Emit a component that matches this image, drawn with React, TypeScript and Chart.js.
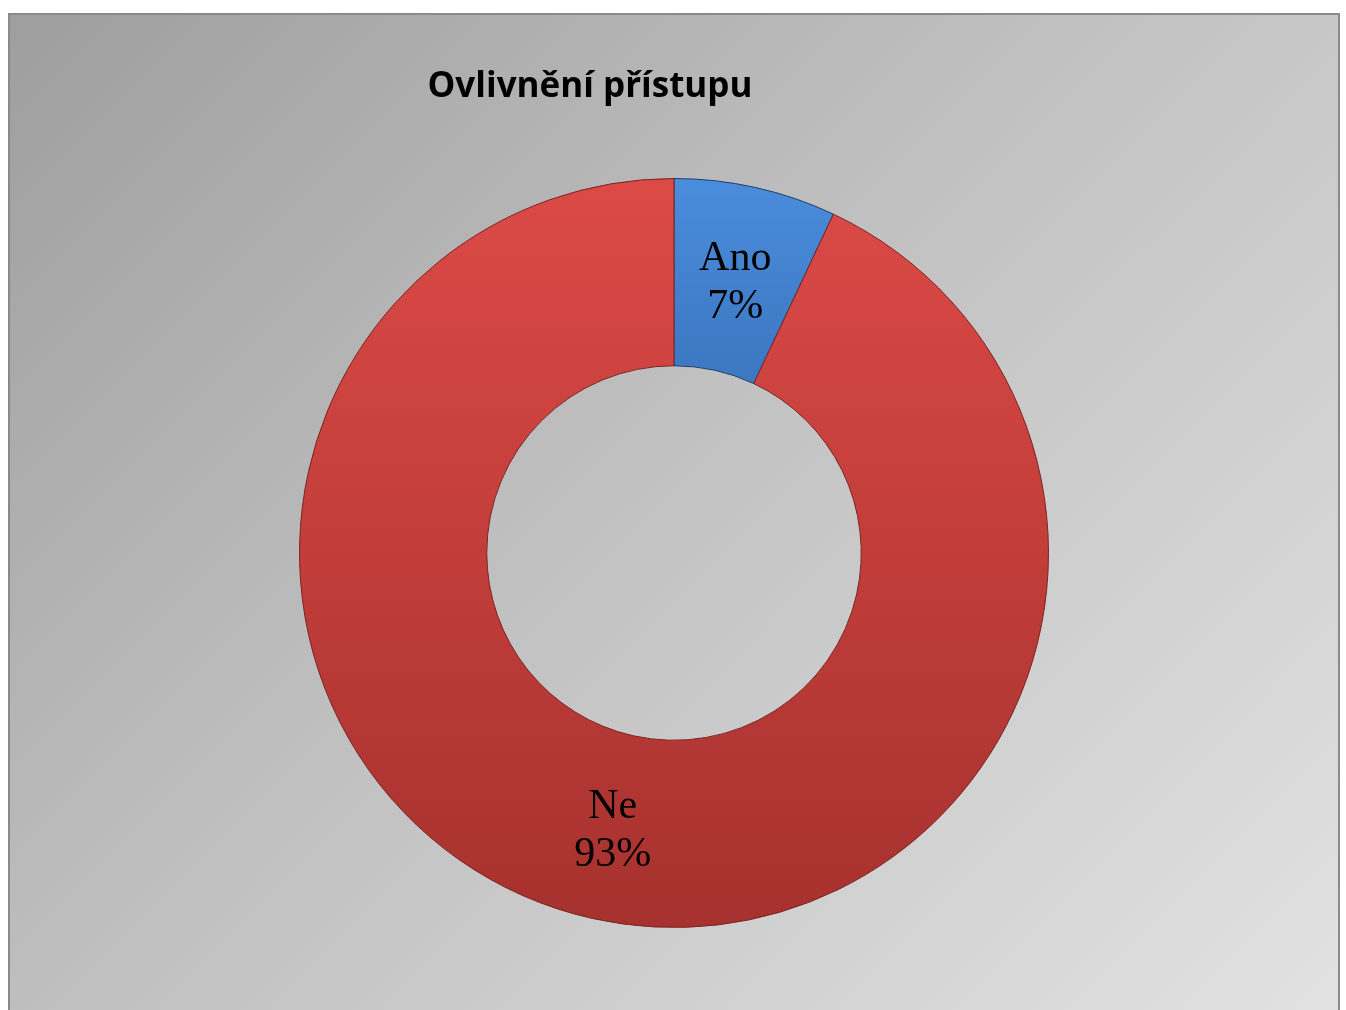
import React, { useEffect, useRef } from "react";
import { Chart, registerables } from "chart.js";

Chart.register(...registerables);

const categories = ["Ano", "Ne"];
const values = [7, 93];
const percentLabels = ["7%", "93%"];
const chartTitle = "Ovlivnění přístupu";

const labelPlugin = {
  id: "sliceLabels",
  afterDatasetsDraw(chart: any) {
    const ctx = chart.ctx;
    const meta = chart.getDatasetMeta(0);
    ctx.save();
    ctx.fillStyle = "#000";
    ctx.font = "42px 'Liberation Serif', 'Times New Roman', serif";
    ctx.textAlign = "center";
    ctx.textBaseline = "middle";
    meta.data.forEach((arc: any, i: number) => {
      const p = arc.tooltipPosition();
      ctx.fillText(categories[i], p.x, p.y - 20);
      ctx.fillText(percentLabels[i], p.x, p.y + 28);
    });
    ctx.restore();
  },
};

const titlePlugin = {
  id: "offsetTitle",
  afterDraw(chart: any) {
    const ctx = chart.ctx;
    ctx.save();
    ctx.fillStyle = "#000";
    ctx.font = "bold 35px 'Open Sans', 'Noto Sans', sans-serif";
    ctx.textAlign = "center";
    ctx.textBaseline = "middle";
    ctx.fillText(chartTitle, 580, 72);
    ctx.restore();
  },
};

function sliceFill(c: any) {
  const chart = c.chart;
  const area = chart.chartArea;
  const isBlue = c.dataIndex === 0;
  if (!area) return isBlue ? "#3f7ccb" : "#c84240";
  const g = chart.ctx.createLinearGradient(0, area.top, 0, area.bottom);
  if (!isBlue) {
    g.addColorStop(0, "#dc4a46");
    g.addColorStop(1, "#a6312e");
  } else {
    g.addColorStop(0, "#4a8ddc");
    g.addColorStop(0.3, "#3b74bd");
    g.addColorStop(1, "#2f5f9e");
  }
  return g;
}

export default function App() {
  const ref = useRef<HTMLCanvasElement>(null);
  useEffect(() => {
    if (!ref.current) return;
    const chart = new Chart(ref.current, {
      type: "doughnut",
      data: {
        labels: categories,
        datasets: [
          {
            data: values,
            backgroundColor: sliceFill as any,
            borderColor: ["#1f3f6a", "#7a2422"],
            borderWidth: 1,
          },
        ],
      },
      options: {
        animation: false,
        responsive: false,
        cutout: "50%",
        layout: { padding: { top: 163, bottom: 87, left: 288, right: 288 } },
        plugins: {
          legend: { display: false },
          tooltip: { enabled: false },
          title: { display: false },
        },
      },
      plugins: [labelPlugin, titlePlugin],
    });
    return () => chart.destroy();
  }, []);
  return (
    <div
      style={{
        position: "absolute",
        left: 8,
        top: 13,
        width: 1328,
        height: 1010,
        border: "2px solid #8a8a8a",
        background: "linear-gradient(135deg, #9e9e9e 0%, #c0c0c0 45%, #e2e2e2 100%)",
        overflow: "hidden",
      }}
    >
      <canvas ref={ref} width={1328} height={1000} style={{ display: "block" }} />
    </div>
  );
}
